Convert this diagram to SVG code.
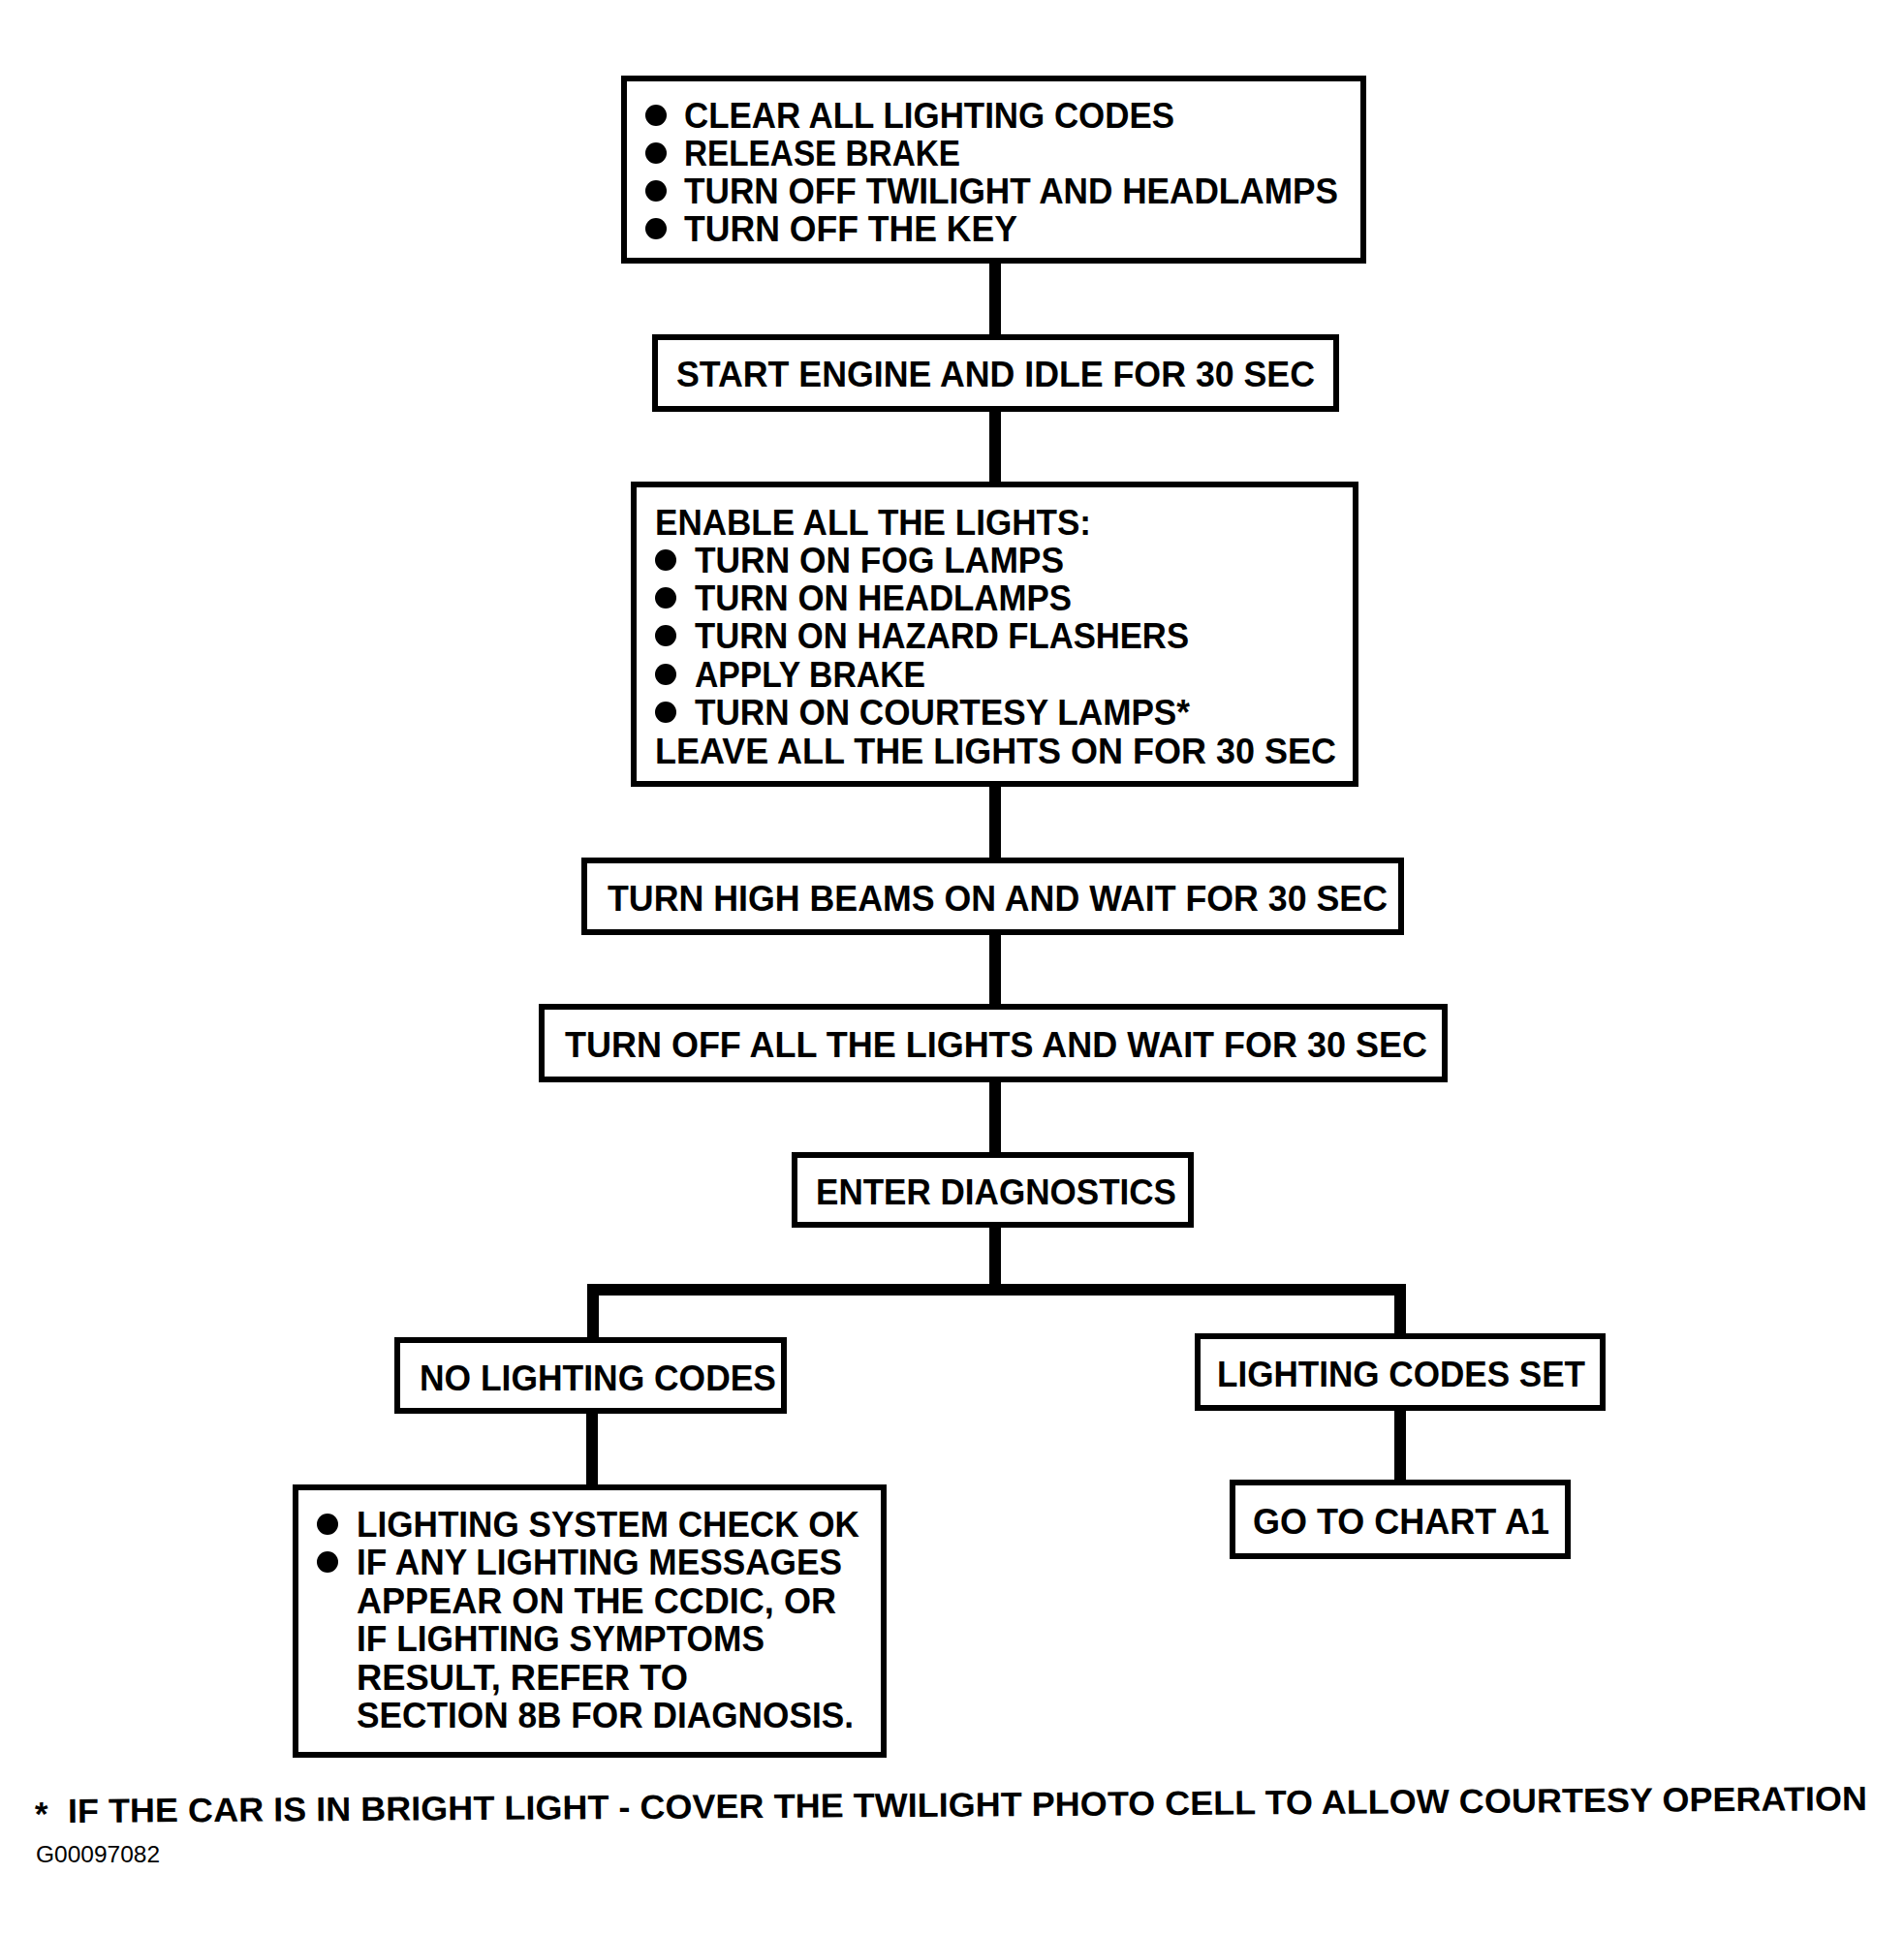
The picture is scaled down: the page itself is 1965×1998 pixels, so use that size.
<svg xmlns="http://www.w3.org/2000/svg" width="1965" height="1998" viewBox="0 0 1965 1998">
<style>
.bg{fill:#fff}
.box{fill:#fff;stroke:#000;stroke-width:6}
.t{font-family:"Liberation Sans",Arial,sans-serif;font-weight:bold;font-size:37px;fill:#000}
.fn{font-family:"Liberation Sans",Arial,sans-serif;font-weight:bold;font-size:35px;fill:#000}
.id{font-family:"Liberation Sans",Arial,sans-serif;font-size:24px;fill:#000}
.conn{stroke:#000;stroke-width:12;fill:none}
.dot{fill:#000}
</style>
<rect class="bg" x="0" y="0" width="1965" height="1998"/>
<g id="connectors">
<path class="conn" d="M1027,270 V346"/>
<path class="conn" d="M1027,424 V498"/>
<path class="conn" d="M1027,811 V886"/>
<path class="conn" d="M1027,964 V1037"/>
<path class="conn" d="M1027,1116 V1190"/>
<path class="conn" d="M1027,1266 V1331"/>
<path class="conn" d="M612,1383 V1331 H1445 V1379"/>
<path class="conn" d="M611,1458 V1535"/>
<path class="conn" d="M1445,1455 V1530"/>
</g>
<g id="n1">
<rect class="box" x="644" y="81" width="763" height="188"/>
<circle class="dot" cx="677" cy="119" r="11"/>
<circle class="dot" cx="677" cy="158" r="11"/>
<circle class="dot" cx="677" cy="197" r="11"/>
<circle class="dot" cx="677" cy="236" r="11"/>
<text class="t" x="706" y="132" textLength="506" lengthAdjust="spacingAndGlyphs">CLEAR ALL LIGHTING CODES</text>
<text class="t" x="706" y="171" textLength="285" lengthAdjust="spacingAndGlyphs">RELEASE BRAKE</text>
<text class="t" x="706" y="210" textLength="675" lengthAdjust="spacingAndGlyphs">TURN OFF TWILIGHT AND HEADLAMPS</text>
<text class="t" x="706" y="249" textLength="344" lengthAdjust="spacingAndGlyphs">TURN OFF THE KEY</text>
</g>
<g id="n2">
<rect class="box" x="676" y="348" width="703" height="74"/>
<text class="t" x="698" y="399" textLength="659" lengthAdjust="spacingAndGlyphs">START ENGINE AND IDLE FOR 30 SEC</text>
</g>
<g id="n3">
<rect class="box" x="654" y="500" width="745" height="309"/>
<text class="t" x="676" y="552" textLength="450" lengthAdjust="spacingAndGlyphs">ENABLE ALL THE LIGHTS:</text>
<circle class="dot" cx="687" cy="578" r="11"/>
<circle class="dot" cx="687" cy="617" r="11"/>
<circle class="dot" cx="687" cy="656" r="11"/>
<circle class="dot" cx="687" cy="696" r="11"/>
<circle class="dot" cx="687" cy="735" r="11"/>
<text class="t" x="717" y="591" textLength="381" lengthAdjust="spacingAndGlyphs">TURN ON FOG LAMPS</text>
<text class="t" x="717" y="630" textLength="389" lengthAdjust="spacingAndGlyphs">TURN ON HEADLAMPS</text>
<text class="t" x="717" y="669" textLength="510" lengthAdjust="spacingAndGlyphs">TURN ON HAZARD FLASHERS</text>
<text class="t" x="717" y="709" textLength="238" lengthAdjust="spacingAndGlyphs">APPLY BRAKE</text>
<text class="t" x="717" y="748" textLength="511" lengthAdjust="spacingAndGlyphs">TURN ON COURTESY LAMPS*</text>
<text class="t" x="676" y="788" textLength="703" lengthAdjust="spacingAndGlyphs">LEAVE ALL THE LIGHTS ON FOR 30 SEC</text>
</g>
<g id="n4">
<rect class="box" x="603" y="888" width="843" height="74"/>
<text class="t" x="627" y="940" textLength="805" lengthAdjust="spacingAndGlyphs">TURN HIGH BEAMS ON AND WAIT FOR 30 SEC</text>
</g>
<g id="n5">
<rect class="box" x="559" y="1039" width="932" height="75"/>
<text class="t" x="583" y="1091" textLength="890" lengthAdjust="spacingAndGlyphs">TURN OFF ALL THE LIGHTS AND WAIT FOR 30 SEC</text>
</g>
<g id="n6">
<rect class="box" x="820" y="1192" width="409" height="72"/>
<text class="t" x="842" y="1243" textLength="372" lengthAdjust="spacingAndGlyphs">ENTER DIAGNOSTICS</text>
</g>
<g id="n7">
<rect class="box" x="410" y="1383" width="399" height="73"/>
<text class="t" x="433" y="1435" textLength="368" lengthAdjust="spacingAndGlyphs">NO LIGHTING CODES</text>
</g>
<g id="n8">
<rect class="box" x="1236" y="1379" width="418" height="74"/>
<text class="t" x="1256" y="1431" textLength="380" lengthAdjust="spacingAndGlyphs">LIGHTING CODES SET</text>
</g>
<g id="n9">
<rect class="box" x="305" y="1535" width="607" height="276"/>
<circle class="dot" cx="338" cy="1573" r="11"/>
<circle class="dot" cx="338" cy="1612" r="11"/>
<text class="t" x="368" y="1586" textLength="519" lengthAdjust="spacingAndGlyphs">LIGHTING SYSTEM CHECK OK</text>
<text class="t" x="368" y="1625" textLength="501" lengthAdjust="spacingAndGlyphs">IF ANY LIGHTING MESSAGES</text>
<text class="t" x="368" y="1665" textLength="495" lengthAdjust="spacingAndGlyphs">APPEAR ON THE CCDIC, OR</text>
<text class="t" x="368" y="1704" textLength="421" lengthAdjust="spacingAndGlyphs">IF LIGHTING SYMPTOMS</text>
<text class="t" x="368" y="1744" textLength="342" lengthAdjust="spacingAndGlyphs">RESULT, REFER TO</text>
<text class="t" x="368" y="1783" textLength="513" lengthAdjust="spacingAndGlyphs">SECTION 8B FOR DIAGNOSIS.</text>
</g>
<g id="n10">
<rect class="box" x="1272" y="1530" width="346" height="76"/>
<text class="t" x="1293" y="1583" textLength="306" lengthAdjust="spacingAndGlyphs">GO TO CHART A1</text>
</g>
<g id="footnote" transform="rotate(-0.4 70 1880)">
<text class="fn" x="36" y="1884">*</text>
<text class="fn" x="70" y="1881" textLength="1857" lengthAdjust="spacingAndGlyphs">IF THE CAR IS IN BRIGHT LIGHT - COVER THE TWILIGHT PHOTO CELL TO ALLOW COURTESY OPERATION</text>
</g>
<text class="id" x="37" y="1922" textLength="128" lengthAdjust="spacingAndGlyphs">G00097082</text>
</svg>
